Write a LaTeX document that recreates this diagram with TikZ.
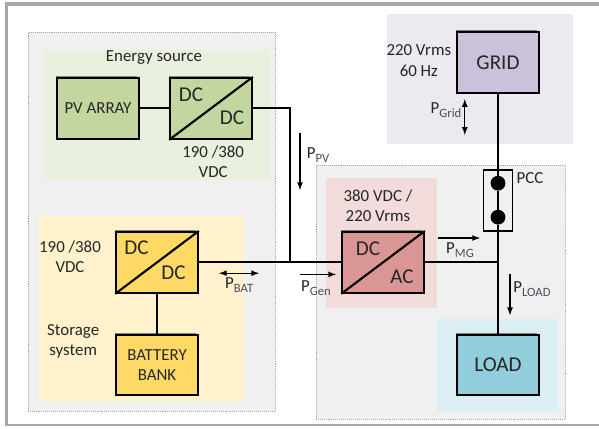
\documentclass[tikz,border=0pt]{standalone}
\usepackage{fontspec}
\setmainfont{Carlito}
\usetikzlibrary{shadows}
\definecolor{inkcol}{HTML}{262626}
\definecolor{subcol}{HTML}{44505A}
\definecolor{framecol}{HTML}{A6A6A6}
\definecolor{zonecol}{HTML}{F0F0F0}
\definecolor{pvback}{HTML}{E9F0DE}
\definecolor{pvfill}{HTML}{C4D6A0}
\definecolor{batback}{HTML}{FFF2CC}
\definecolor{batfill}{HTML}{FFD966}
\definecolor{acback}{HTML}{F2DCDB}
\definecolor{acfill}{HTML}{D99694}
\definecolor{gridback}{HTML}{ECE9F0}
\definecolor{gridfill}{HTML}{CCC1DA}
\definecolor{loadback}{HTML}{DBEEF4}
\definecolor{loadfill}{HTML}{92CDDC}
\newcommand{\powerlabel}[1]{P\raisebox{-0.45ex}{\color{subcol}\fontsize{9}{9}\selectfont #1}}
\tikzset{
    zone/.style={fill=zonecol,draw=gray!70,densely dotted,line width=0.4pt},
    block/.style={shape=rectangle,draw=black,line width=1.5pt,minimum width=2.04cm,minimum height=1.52cm,
        align=center,text=inkcol,font=\fontsize{12}{14.5}\selectfont,
        drop shadow={shadow xshift=-1.2pt,shadow yshift=1.2pt,fill=black,opacity=0.45}},
    bigblock/.style={block,font=\fontsize{15}{18}\selectfont},
    wire/.style={draw=black,line width=1.5pt},
    flow/.style={draw=black,line width=0.9pt,-latex},
    flowboth/.style={draw=black,line width=0.9pt,latex-latex},
    caption/.style={align=center,text=inkcol,font=\fontsize{12}{14.5}\selectfont},
    conv/.style={text=inkcol,font=\fontsize{15}{18}\selectfont},
}
\begin{document}
\begin{tikzpicture}
    \useasboundingbox (0,0) rectangle (14.975,10.7);
    % frame
    \fill[framecol] (0.125,0.05) rectangle (15.5,10.65);
    \fill[white] (0.21,0.09) rectangle (15.5,10.55);
    % coloured zones
    \path[zone] (0.7,0.425) rectangle (6.875,9.9);
    \path[zone] (7.9,0.225) rectangle (14.125,6.575);
    \fill[pvback] (1.1,6.2) rectangle (6.75,9.45);
    \fill[batback] (0.975,0.675) rectangle (6.1,5.3);
    \fill[acback] (8.15,3.0) rectangle (10.925,6.25);
    \fill[gridback] (9.675,7.1) rectangle (14.325,10.35);
    \fill[loadback] (10.925,0.425) rectangle (13.95,2.725);

    % blocks
    \node[block,fill=pvfill] (PV) at (2.45,7.99) {PV ARRAY};
    \node[block,fill=pvfill] (DCPV) at (5.275,7.99) {};
    \node[block,fill=batfill] (DCBAT) at (3.925,4.14) {};
    \node[block,fill=batfill] (BAT) at (3.925,1.575) {BATTERY\\BANK};
    \node[block,fill=acfill] (INV) at (9.575,4.14) {};
    \node[bigblock,fill=gridfill] (GRID) at (12.45,9.14) {GRID};
    \node[bigblock,fill=loadfill] (LOAD) at (12.45,1.575) {LOAD};
    \node[shape=rectangle,draw=black,line width=1pt,minimum width=0.72cm,minimum height=1.52cm] (PCC) at (12.45,5.69) {};
    \node[shape=circle,fill=black,inner sep=0pt,minimum size=0.37cm] (PCCA) at (12.45,6.12) {};
    \node[shape=circle,fill=black,inner sep=0pt,minimum size=0.37cm] (PCCB) at (12.45,5.27) {};

    % diagonals of the converters
    \draw[wire] (DCPV.south west) -- (DCPV.north east);
    \draw[wire] (DCBAT.south west) -- (DCBAT.north east);
    \draw[wire] (INV.south west) -- (INV.north east);
    \node[conv] (DCPVa) at (4.775,8.32) {DC};
    \node[conv] (DCPVb) at (5.8,7.75) {DC};
    \node[conv] (DCBATa) at (3.41,4.5) {DC};
    \node[conv] (DCBATb) at (4.34,3.87) {DC};
    \node[conv] (INVa) at (9.2,4.47) {DC};
    \node[conv] (INVb) at (10.05,3.79) {AC};

    % junctions
    \coordinate (J1) at (7.25,4.14);
    \coordinate (J1top) at (7.25,7.99);
    \coordinate (J2) at (12.45,4.14);

    % wires
    \path[wire] (PV) edge (DCPV);
    \path[wire] (DCPV) -- (J1top) -- (J1);
    \path[wire] (DCBAT) edge (INV);
    \path[wire] (DCBAT) edge (BAT);
    \path[wire] (INV) edge (J2);
    \path[wire] (GRID) edge (PCCA);
    \path[wire] (PCCA) edge (PCCB);
    \path[wire] (PCCB) edge (LOAD);

    % power flows
    \coordinate (PVa) at (7.5,7.38);
    \coordinate (PVb) at (7.5,5.95);
    \coordinate (BATa) at (5.475,3.87);
    \coordinate (BATb) at (6.475,3.87);
    \coordinate (GENa) at (7.5,3.84);
    \coordinate (GENb) at (8.4,3.84);
    \coordinate (MGa) at (10.95,4.75);
    \coordinate (MGb) at (12.0,4.75);
    \coordinate (LOADa) at (12.75,3.85);
    \coordinate (LOADb) at (12.75,2.82);
    \coordinate (GRIDa) at (11.62,8.22);
    \coordinate (GRIDb) at (11.62,7.33);
    \draw[flow] (PVa) -- (PVb);
    \draw[flowboth] (BATa) -- (BATb);
    \draw[flow] (GENa) -- (GENb);
    \draw[flow] (MGa) -- (MGb);
    \draw[flow] (LOADa) -- (LOADb);
    \draw[flowboth] (GRIDa) -- (GRIDb);

    % labels
    \node[caption] (source) at (3.85,9.27) {Energy source};
    \node[caption] (vpv) at (5.33,6.65) {190 /380\\VDC};
    \node[caption] (vbat) at (1.75,4.275) {190 /380\\VDC};
    \node[caption] (storage) at (1.83,2.16) {Storage\\system};
    \node[caption] (vinv) at (9.45,5.55) {380 VDC /\\220 Vrms};
    \node[caption] (vgrid) at (10.47,9.19) {220 Vrms\\60 Hz};
    \node[caption] (pcc) at (13.25,6.25) {PCC};
    \node[caption] (pPV) at (7.95,6.82) {\powerlabel{PV}};
    \node[caption] (pBAT) at (5.98,3.58) {\powerlabel{BAT}};
    \node[caption] (pGen) at (7.9,3.5) {\powerlabel{Gen}};
    \node[caption] (pMG) at (11.5,4.45) {\powerlabel{MG}};
    \node[caption] (pLOAD) at (13.3,3.47) {\powerlabel{LOAD}};
    \node[caption] (pGrid) at (11.15,7.95) {\powerlabel{Grid}};
\end{tikzpicture}
\end{document}
